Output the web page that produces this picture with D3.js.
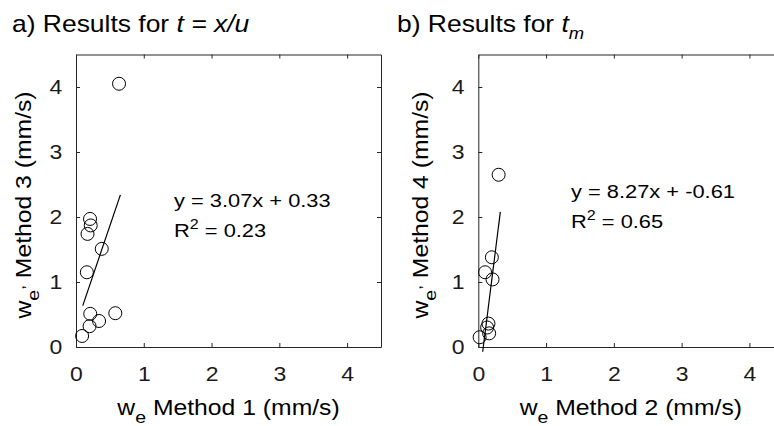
<!DOCTYPE html>
<meta charset="utf-8">
<script src="https://d3js.org/d3.v7.min.js"></script>
<style>
  body { margin: 0; background: #fff; }
  svg { display: block; font-family: "Liberation Sans", Arial, Helvetica, sans-serif; }
</style>
<div id="my_dataviz"></div>
<script>
  // ---- data ----
  var tickValues = [0, 1, 2, 3, 4];

  // panel a: method 1 vs method 3
  var xA = [0.635, 0.207, 0.217, 0.17, 0.38, 0.16, 0.21, 0.34, 0.58, 0.20, 0.09];
  var yA = [4.05, 1.97, 1.87, 1.74, 1.51, 1.15, 0.51, 0.40, 0.52, 0.32, 0.17];
  var fitRangeA = [0.10, 0.655];
  var slopeA = 3.07, interceptA = 0.33, r2A = 0.23;

  // panel b: method 2 vs method 4
  var xB = [0.30, 0.20, 0.10, 0.21, 0.15, 0.13, 0.16, 0.02];
  var yB = [2.65, 1.38, 1.15, 1.04, 0.36, 0.30, 0.21, 0.15];
  var fitRangeB = [0.065, 0.325];
  var slopeB = 8.27, interceptB = -0.61, r2B = 0.65;

  var width = 774, height = 426;
  var axisColor = "#262626";
  var SX = 1.15; // glyphs in the figure are a bit wider than Liberation Sans

  var svg = d3.select("#my_dataviz")
    .append("svg")
    .attr("width", width)
    .attr("height", height);

  // text helper: horizontally stretched text anchored at (x, y)
  function stretched(x, y, size, anchor, rotate) {
    var t = "translate(" + x + "," + y + ")" + (rotate ? " rotate(-90)" : "") + " scale(" + SX + ",1)";
    return svg.append("g").attr("transform", t)
      .append("text")
      .attr("font-size", size)
      .attr("text-anchor", anchor || "start")
      .attr("fill", "#000");
  }

  function panel(p) {
    var x = d3.scaleLinear().domain([0, 4.5]).range([p.left, p.left + 305]);
    var y = d3.scaleLinear().domain([0, 4.5]).range([347, 54.5]);
    var g = svg.append("g");

    // bottom axis with labels
    g.append("g")
      .attr("transform", "translate(0," + y(0) + ")")
      .call(d3.axisBottom(x).tickValues(tickValues).tickSize(-4).tickSizeOuter(0).tickPadding(20).tickFormat(d3.format("d")));
    // left axis with labels
    g.append("g")
      .attr("transform", "translate(" + x(0) + ",0)")
      .call(d3.axisLeft(y).tickValues(tickValues).tickSize(-4).tickSizeOuter(0).tickPadding(12).tickFormat(d3.format("d")));
    // top and right: ticks only
    g.append("g")
      .attr("transform", "translate(0," + y(4.5) + ")")
      .call(d3.axisTop(x).tickValues(tickValues).tickSize(-4).tickSizeOuter(0).tickFormat(""));
    g.append("g")
      .attr("transform", "translate(" + x(4.5) + ",0)")
      .call(d3.axisRight(y).tickValues(tickValues).tickSize(-4).tickSizeOuter(0).tickFormat(""));

    g.selectAll(".domain, .tick line").attr("stroke", axisColor);
    g.selectAll(".tick text")
      .attr("font-size", 20)
      .attr("font-family", "Liberation Sans, Arial, sans-serif")
      .attr("fill", "#1a1a1a")
      .attr("transform", "scale(" + SX + ",1)");

    // points
    g.append("g")
      .selectAll("circle")
      .data(p.xs.map(function (d, i) { return [d, p.ys[i]]; }))
      .enter()
      .append("circle")
      .attr("cx", function (d) { return x(d[0]); })
      .attr("cy", function (d) { return y(d[1]); })
      .attr("r", 6.5)
      .attr("fill", "none")
      .attr("stroke", "#000")
      .attr("stroke-width", 1);

    // fitted line
    g.append("path")
      .datum(p.fit)
      .attr("fill", "none")
      .attr("stroke", "#000")
      .attr("stroke-width", 1.2)
      .attr("d", d3.line()
        .x(function (d) { return x(d); })
        .y(function (d) { return y(p.slope * d + p.intercept); }));

    // equation + R^2
    var eq = stretched(p.eqX, p.eqY, 19, "start");
    eq.text("y = " + p.slope.toFixed(2) + "x + " + p.intercept.toFixed(2));
    var r2 = stretched(p.eqX, p.eqY + 30, 19, "start");
    r2.append("tspan").text("R");
    r2.append("tspan").attr("font-size", 14).attr("dy", -8).text("2");
    r2.append("tspan").attr("dy", 8).text(" = " + p.r2.toFixed(2));

    // x label
    var xl = stretched((x(0) + x(4.5)) / 2, 415, 21.5, "middle");
    xl.append("tspan").text("w");
    xl.append("tspan").attr("font-size", 17).attr("dy", 8).text("e");
    xl.append("tspan").attr("dy", -8).text(" Method " + p.xMethod + " (mm/s)");

    // y label
    var yl = stretched(p.yLabelX, 205, 21.5, "middle", true);
    yl.append("tspan").text("w");
    yl.append("tspan").attr("font-size", 17).attr("dy", 8).text("e");
    yl.append("tspan").attr("font-size", 15).attr("dy", -15).text(",");
    yl.append("tspan").attr("dy", 7).text(" Method " + p.yMethod + " (mm/s)");
  }

  panel({ left: 76, xs: xA, ys: yA, fit: fitRangeA, slope: slopeA, intercept: interceptA, r2: r2A,
          eqX: 174, eqY: 207, xMethod: 1, yMethod: 3, yLabelX: 31 });
  panel({ left: 478.3, xs: xB, ys: yB, fit: fitRangeB, slope: slopeB, intercept: interceptB, r2: r2B,
          eqX: 571, eqY: 198, xMethod: 2, yMethod: 4, yLabelX: 428 });

  // titles
  var ta = stretched(12, 32, 23, "start");
  ta.append("tspan").text("a) Results for ");
  ta.append("tspan").attr("font-style", "italic").text("t = x/u");

  var tb = stretched(397, 32, 23, "start");
  tb.append("tspan").text("b) Results for ");
  tb.append("tspan").attr("font-style", "italic").text("t");
  tb.append("tspan").attr("font-style", "italic").attr("font-size", 16).attr("dy", 7).text("m");
</script>
